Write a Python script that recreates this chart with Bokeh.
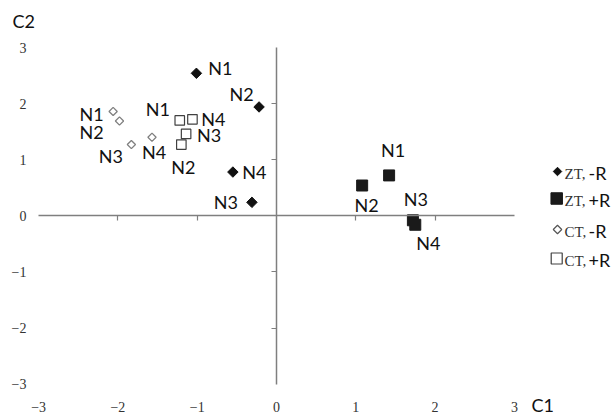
import math
from bokeh.plotting import figure
from bokeh.models import LinearAxis, FixedTicker, Range1d
from bokeh.embed import file_html
from bokeh.resources import INLINE
from bokeh.core.properties import value

# ---------------- data ----------------
names = ["N1", "N2", "N3", "N4"]
zt_minus_c1 = [-1.01, -0.22, -0.31, -0.55]
zt_minus_c2 = [2.54, 1.94, 0.24, 0.78]
zt_plus_c1 = [1.42, 1.08, 1.72, 1.75]
zt_plus_c2 = [0.72, 0.54, -0.08, -0.16]
ct_minus_c1 = [-2.06, -1.98, -1.83, -1.57]
ct_minus_c2 = [1.86, 1.69, 1.27, 1.40]
ct_plus_c1 = [-1.22, -1.20, -1.14, -1.06]
ct_plus_c2 = [1.70, 1.27, 1.46, 1.72]
tick_values = [-3, -2, -1, 0, 1, 2, 3]
inner_ticks = [-2, -1, 1, 2]
legend_prefix = ["ZT,", "ZT,", "CT,", "CT,"]
legend_suffix = ["-R", "+R", "-R", "+R"]

# ---------------- layout (page pixels) ----------------
X0, SX = 276.0, 79.3      # page x of C1=0, px per unit
Y0, SY = 215.3, 56.1      # page y of C2=0, px per unit
ORG = 0                   # page position of the figure's top-left corner
def px2x(p):
    return (p - X0) / SX
def py2y(p):
    return (Y0 - p) / SY

W, H = 614, 414
p = figure(width=W, height=H, output_backend="svg", toolbar_location=None,
           x_axis_location=None, y_axis_location=None,
           x_range=Range1d(px2x(ORG), px2x(ORG + W)),
           y_range=Range1d(py2y(ORG + H), py2y(ORG)),
           min_border=0, outline_line_color=None,
           background_fill_color="white", border_fill_color="white")
p.grid.visible = False

AX = "#7f7f7f"
# crossing axes
xa = LinearAxis(fixed_location=0, bounds=(-3, 3), ticker=FixedTicker(ticks=inner_ticks),
                axis_line_color=AX, axis_line_width=1.5, major_tick_line_color=AX,
                major_tick_line_width=1.2, major_tick_out=5, major_tick_in=0,
                minor_tick_line_color=None, major_label_text_alpha=0)
ya = LinearAxis(fixed_location=0, bounds=(-3, 3), ticker=FixedTicker(ticks=inner_ticks),
                axis_line_color=AX, axis_line_width=1.5, major_tick_line_color=AX,
                major_tick_line_width=1.2, major_tick_out=5, major_tick_in=0,
                minor_tick_line_color=None, major_label_text_alpha=0)
p.add_layout(xa, "below")
p.add_layout(ya, "left")

# label-only axes at the edges
lab_kw = dict(axis_line_color=None, major_tick_line_color=None, minor_tick_line_color=None,
              major_tick_out=0, major_tick_in=0,
              major_label_text_font="Liberation Serif", major_label_text_font_size="14px",
              major_label_text_color="#333333")
xl = LinearAxis(fixed_location=py2y(400), ticker=FixedTicker(ticks=tick_values),
                major_label_standoff=1, **lab_kw)
yl = LinearAxis(fixed_location=px2x(34), ticker=FixedTicker(ticks=tick_values),
                major_label_standoff=8, **lab_kw)
p.add_layout(xl, "below")
p.add_layout(yl, "left")

# ---------------- points ----------------
rot = math.pi / 4
p.scatter(zt_minus_c1, zt_minus_c2, marker="square", size=7.4, angle=rot,
          fill_color="#111111", line_color="#111111")
p.scatter(zt_plus_c1, zt_plus_c2, marker="square", size=11,
          fill_color="#1a1a1a", line_color="#1a1a1a")
p.scatter(ct_minus_c1, ct_minus_c2, marker="square", size=5.8, angle=rot,
          fill_color="white", line_color="#808080", line_width=1.3)
p.scatter(ct_plus_c1, ct_plus_c2, marker="square", size=9.5,
          fill_color="white", line_color="#404040", line_width=1.2)

# ---------------- point labels ----------------
lab_font = value("Lato")
offsets = {
    "zt_minus": [(24, -5), (-17.5, -12.5), (-26, 0), (21.5, 0)],
    "zt_plus": [(4, -25), (4.5, 19), (3, -21), (13, 18)],
    "ct_minus": [(-21.5, 2.5), (-28, 11), (-20.5, 11), (2, 14.5)],
    "ct_plus": [(-22, -11.5), (2, 22), (23, 1.5), (21, 0)],
}
series = {
    "zt_minus": (zt_minus_c1, zt_minus_c2),
    "zt_plus": (zt_plus_c1, zt_plus_c2),
    "ct_minus": (ct_minus_c1, ct_minus_c2),
    "ct_plus": (ct_plus_c1, ct_plus_c2),
}
for key, (xs, ys) in series.items():
    off = offsets[key]
    p.text(x=xs, y=ys, text=names,
           x_offset=[o[0] for o in off], y_offset=[o[1] for o in off],
           text_font=lab_font, text_font_size="18px", text_color="#111111",
           text_align="center", text_baseline="middle")

# ---------------- axis titles ----------------
p.text(x=[px2x(12)], y=[py2y(20)], text=["C2"], text_font=lab_font, text_font_size="18px",
       text_color="#111111", text_align="left", text_baseline="middle")
p.text(x=[px2x(531)], y=[py2y(404)], text=["C1"], text_font=lab_font, text_font_size="18px",
       text_color="#111111", text_align="left", text_baseline="middle")

# ---------------- legend ----------------
rows_py = [171, 198, 229, 258]
mx = px2x(557)
p.scatter([mx], [py2y(rows_py[0])], marker="square", size=6, angle=rot,
          fill_color="#111111", line_color="#111111")
p.scatter([mx - 0.01], [py2y(rows_py[1])], marker="square", size=11.5,
          fill_color="#1a1a1a", line_color="#1a1a1a")
p.scatter([mx], [py2y(rows_py[2])], marker="square", size=6, angle=rot,
          fill_color="white", line_color="#555555", line_width=1.2)
p.scatter([mx - 0.01], [py2y(rows_py[3])], marker="square", size=11,
          fill_color="white", line_color="#404040", line_width=1.2)
p.text(x=[px2x(564)] * 4, y=[py2y(r + 2) for r in rows_py], text=legend_prefix,
       text_font=value("Liberation Serif"), text_font_size="15px", text_color="#333333",
       text_align="left", text_baseline="alphabetic")
p.text(x=[px2x(588)] * 4, y=[py2y(r + 1) for r in rows_py], text=legend_suffix,
       text_font=lab_font, text_font_size="18px", text_color="#111111",
       text_align="left", text_baseline="middle")

open("out.html", "w").write(file_html(p, INLINE))
